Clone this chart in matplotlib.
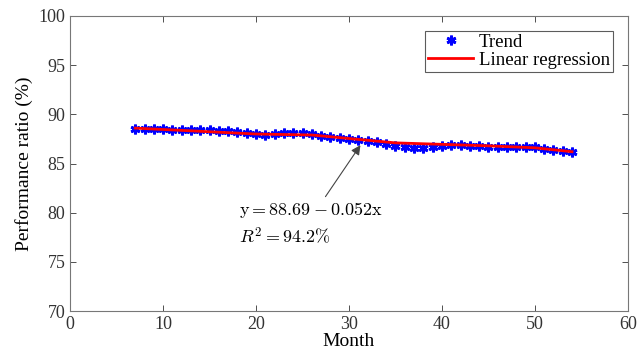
import numpy as np
import matplotlib
matplotlib.use("Agg")
import matplotlib.pyplot as plt

# data
months = list(range(7, 55))
trend = [88.5, 88.5, 88.5, 88.5, 88.4, 88.4, 88.4, 88.4, 88.4, 88.3, 88.3,
         88.2, 88.1, 88.0, 87.9, 88.0, 88.1, 88.1, 88.1, 88.0, 87.8, 87.7,
         87.6, 87.5, 87.4, 87.3, 87.2, 87.0, 86.8, 86.7, 86.6, 86.6, 86.7,
         86.8, 86.9, 86.9, 86.8, 86.8, 86.7, 86.7, 86.7, 86.7, 86.7, 86.7,
         86.5, 86.4, 86.3, 86.2]
reg_x = [7, 20, 26, 35, 45, 50, 54]
reg_y = [88.6, 88.0, 87.9, 87.1, 86.8, 86.6, 86.2]

plt.rcParams['font.family'] = ['Liberation Serif', 'DejaVu Serif']
plt.rcParams['mathtext.fontset'] = 'cm'

fig = plt.figure(figsize=(6.38, 3.63), dpi=100)
ax = fig.add_axes([0.110, 0.143, 0.874, 0.813])

ax.plot(months, trend, linestyle='none', marker=(6, 2, 0), color='blue',
        markersize=7, markeredgewidth=2.0, label='Trend', zorder=2)
ax.plot(reg_x, reg_y, '-', color='red', linewidth=2, label='Linear regression', zorder=3)

ax.annotate('', xy=(31.4, 87.1), xytext=(27.3, 81.4),
            arrowprops=dict(arrowstyle='-|>', color='#444444', lw=0.8,
                            mutation_scale=14))
ax.text(18.2, 80.3, r'$\mathrm{y} = 88.69 - 0.052\mathrm{x}$', fontsize=13, va='center')
ax.text(18.2, 77.6, r'$R^2 = 94.2\%$', fontsize=13, va='center')

ax.set_xlim(0, 60)
ax.set_ylim(70, 100)
ax.set_xticks(range(0, 61, 10))
ax.set_yticks(range(70, 101, 5))
ax.set_xlabel('Month', fontsize=14, labelpad=0)
ax.set_ylabel('Performance ratio (%)', fontsize=14, labelpad=4)
ax.tick_params(direction='in', top=True, right=True, labelsize=13,
               colors='#333333', length=4, width=0.6)
for s in ax.spines.values():
    s.set_color('#777777')
    s.set_linewidth(0.8)

leg = ax.legend(loc='upper right', fontsize=13.5, frameon=True, fancybox=False,
                edgecolor='#333333', borderpad=0.15, labelspacing=0.05,
                handlelength=2.4, handletextpad=0.3, borderaxespad=0.8)
leg.get_frame().set_linewidth(0.8)

fig.savefig('out.png', dpi=100)
